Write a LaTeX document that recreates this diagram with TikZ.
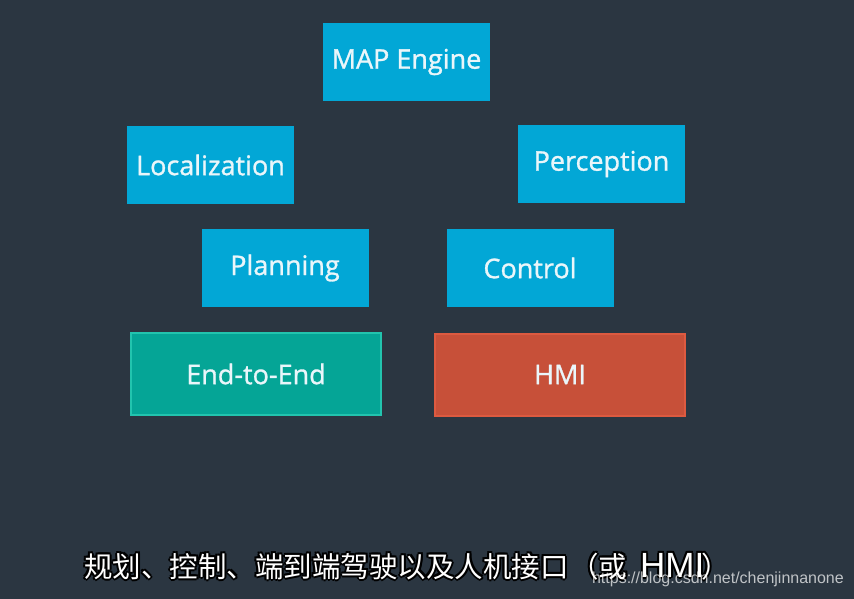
\documentclass[tikz,border=0pt]{standalone}
\usepackage{fontspec}
\newfontfamily\boxfont[FakeBold=1.1]{Open Sans}
\newfontfamily\cjk{Noto Sans CJK SC}
\newfontfamily\wmfont{Liberation Sans}
\definecolor{bg}{HTML}{2B3641}
\definecolor{blu}{HTML}{02A7D6}
\definecolor{tealf}{HTML}{05A596}
\definecolor{tealb}{HTML}{22C4AE}
\definecolor{redf}{HTML}{C75039}
\definecolor{redb}{HTML}{DD5A40}
\definecolor{txt}{HTML}{EAF6FA}
\tikzset{
  modbox/.style={fill=blu, draw=none, minimum width=167pt, minimum height=78pt, inner sep=0pt,
     text=txt, font=\boxfont\fontsize{27}{30}\selectfont},
  bigbox/.style={line width=2pt, minimum width=250pt, minimum height=82pt, inner sep=0pt,
     text=txt, font=\boxfont\fontsize{27}{30}\selectfont},
  subt/.style={anchor=base west, inner sep=0pt},
}
\newcommand{\subcjk}{\cjk\fontsize{28.5}{31}\selectfont}
\newcommand{\sublat}{\wmfont\fontsize{35}{38}\selectfont}
\begin{document}
\begin{tikzpicture}[x=1pt,y=-1pt]
\fill[bg] (0,0) rectangle (854,599);
\useasboundingbox (0,0) rectangle (854,599);
\node[modbox] (map) at (406.5,62) {MAP Engine};
\node[modbox] (loc) at (210.5,165) {Localization};
\node[modbox] (per) at (601.5,164) {Perception};
\node[modbox] (plan) at (285,268) {Planning};
\node[modbox] (ctrl) at (530,268) {Control};
\node[bigbox, fill=tealf, draw=tealb] (e2e) at (256,374) {End-to-End};
\node[bigbox, fill=redf, draw=redb] (hmi) at (560,374.5) {HMI};
% subtitle with black outline
\foreach \dx/\dy in {-2/0,2/0,0/-2,0/2,-1.5/-1.5,1.5/1.5,-1.5/1.5,1.5/-1.5}{
  \node[subt, text=black, font=\subcjk] at (84+\dx,577+\dy) {规划、控制、端到端驾驶以及人机接口};
  \node[subt, text=black, font=\subcjk] at (570+\dx,577+\dy) {（或};
  \node[subt, text=black, font=\sublat] at (640+\dx,577+\dy) {HMI};
  \node[subt, text=black, font=\subcjk] at (701+\dx,577+\dy) {）};
}
\node[subt, text=white, font=\subcjk] (sub1) at (84,577) {规划、控制、端到端驾驶以及人机接口};
\node[subt, text=white, font=\subcjk] (sub2) at (570,577) {（或};
\node[subt, text=white, font=\sublat] (sub3) at (640,577) {HMI};
\node[subt, text=white, font=\subcjk] (sub4) at (701,577) {）};
\node[anchor=east, inner sep=0pt, text=white, opacity=0.7, font=\wmfont\fontsize{16}{18}\selectfont] (wm) at (844,579) {https://blog.csdn.net/chenjinnanone};
\end{tikzpicture}
\end{document}
